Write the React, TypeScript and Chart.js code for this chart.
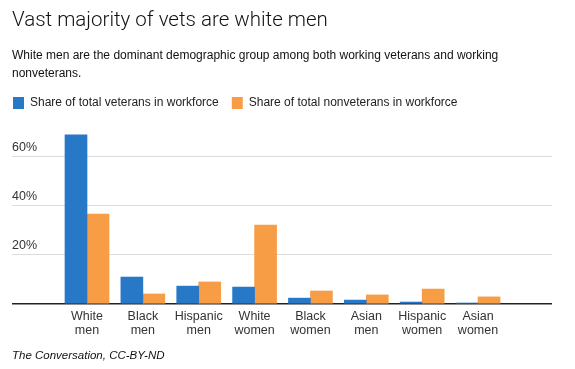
import React, { useEffect, useRef } from "react";
import { Chart, registerables } from "chart.js";

Chart.register(...registerables);

const titleText = "Vast majority of vets are white men";
const subtitleLines = [
  "White men are the dominant demographic group among both working veterans and working",
  "nonveterans.",
];
const sourceText = "The Conversation, CC-BY-ND";

const categories = [
  "White men",
  "Black men",
  "Hispanic men",
  "White women",
  "Black women",
  "Asian men",
  "Hispanic women",
  "Asian women",
];
const seriesNames = [
  "Share of total veterans in workforce",
  "Share of total nonveterans in workforce",
];
const veterans = [69.0, 11.0, 7.3, 6.9, 2.4, 1.6, 0.8, 0.4];
const nonveterans = [36.7, 4.1, 9.0, 32.2, 5.3, 3.7, 6.1, 2.9];
const yTickStep = 20;
const yMax = 75.5;

const BLUE = "#2878c8";
const ORANGE = "#f69d45";
const FONT = "'Liberation Sans', Arial, Helvetica, sans-serif";

// x axis range (category centres at 1..8)
const X_MIN = 1 - 75 / 55.86;
const X_MAX = X_MIN + 540 / 55.86;

export default function App() {
  const canvasRef = useRef<HTMLCanvasElement | null>(null);

  useEffect(() => {
    const canvas = canvasRef.current;
    if (!canvas) return;
    const chart = new Chart(canvas, {
      type: "bar",
      data: {
        datasets: [
          {
            label: seriesNames[0],
            data: veterans.map((v, i) => ({ x: i + 1, y: v })),
            backgroundColor: BLUE,
            borderWidth: 0,
            barThickness: 22,
          },
          {
            label: seriesNames[1],
            data: nonveterans.map((v, i) => ({ x: i + 1, y: v })),
            backgroundColor: ORANGE,
            borderWidth: 0,
            barThickness: 22,
          },
        ],
      },
      options: {
        animation: false,
        responsive: false,
        devicePixelRatio: 1,
        layout: { padding: { left: 0, right: 23, top: 84, bottom: 25 } },
        plugins: {
          legend: {
            position: "top",
            align: "start",
            labels: {
              boxWidth: 11,
              boxHeight: 12,
              padding: 13,
              color: "#222",
              font: { family: FONT, size: 12 },
            },
          },
          tooltip: { enabled: false },
          title: { display: false },
        },
        scales: {
          x: {
            type: "linear",
            min: X_MIN,
            max: X_MAX,
            offset: false,
            grid: { display: false, drawTicks: false },
            border: { display: false },
            afterBuildTicks: (axis: any) => {
              axis.ticks = categories.map((_, i) => ({ value: i + 1 }));
            },
            ticks: {
              autoSkip: false,
              maxRotation: 0,
              minRotation: 0,
              padding: 6,
              color: "#333",
              font: { family: FONT, size: 12.5, lineHeight: "14px" },
              callback: (_v: any, i: number) => categories[i].split(" "),
            },
          },
          y: {
            min: 0,
            max: yMax,
            afterFit: (axis: any) => {
              axis.width = 12;
            },
            border: { display: false },
            grid: {
              drawTicks: false,
              color: (ctx: any) => (ctx.tick && ctx.tick.value === 0 ? "#222" : "#dcdcdc"),
              lineWidth: (ctx: any) => (ctx.tick && ctx.tick.value === 0 ? 1.5 : 1),
            },
            ticks: {
              stepSize: yTickStep,
              includeBounds: false,
              mirror: true,
              padding: 0,
              labelOffset: -9,
              color: "#333",
              font: { family: FONT, size: 12.5 },
              callback: (v: any) => (v === 0 ? "" : v + "%"),
            },
          },
        },
      },
    });
    return () => chart.destroy();
  }, []);

  return (
    <div
      style={{
        position: "absolute",
        left: 0,
        top: 0,
        width: 575,
        height: 369,
        overflow: "hidden",
        background: "#fff",
      }}
    >
      <canvas
        ref={canvasRef}
        width={575}
        height={369}
        style={{ position: "absolute", left: 0, top: 0, width: 575, height: 369 }}
      />
      <div
        style={{
          position: "absolute",
          left: 12,
          top: 9,
          fontFamily: "Roboto, " + FONT,
          fontWeight: 300,
          fontSize: 20.5,
          lineHeight: "21px",
          color: "#111",
          whiteSpace: "nowrap",
        }}
      >
        {titleText}
      </div>
      <div
        style={{
          position: "absolute",
          left: 12,
          top: 46,
          fontFamily: FONT,
          fontSize: 12,
          lineHeight: "18px",
          color: "#111",
          whiteSpace: "nowrap",
        }}
      >
        {subtitleLines.map((l, i) => (
          <div key={i}>{l}</div>
        ))}
      </div>
      <div
        style={{
          position: "absolute",
          left: 12,
          top: 350,
          fontFamily: FONT,
          fontStyle: "italic",
          fontSize: 11.5,
          lineHeight: "11.5px",
          color: "#111",
          whiteSpace: "nowrap",
        }}
      >
        {sourceText}
      </div>
    </div>
  );
}
